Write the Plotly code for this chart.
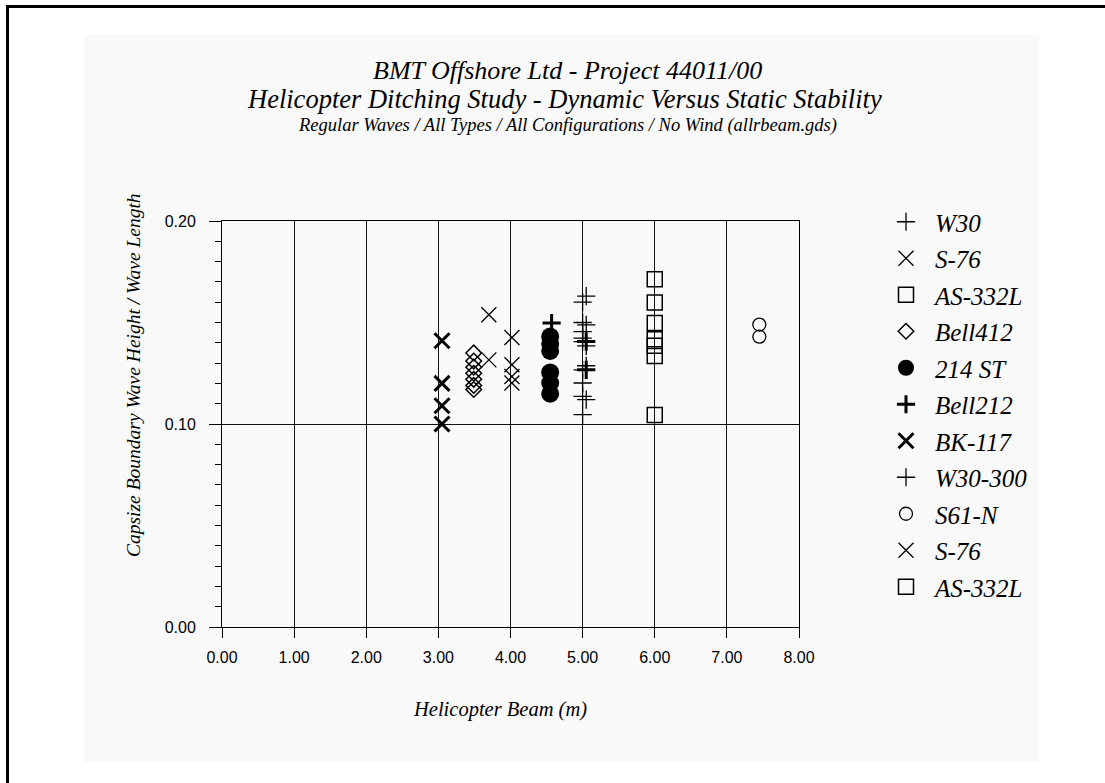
import plotly.graph_objects as go

# ---------------- data ----------------
w30_x = [5.00, 5.00, 5.00, 5.00, 5.00, 5.00, 5.00, 5.00, 5.00]
w30_y = [0.160, 0.150, 0.1455, 0.1423, 0.1406, 0.1267, 0.1202, 0.1136, 0.1046]

s76_x = [3.70, 3.70]
s76_y = [0.1538, 0.1316]

as332l_x = [6.00, 6.00, 6.00, 6.00]
as332l_y = [0.1713, 0.1598, 0.1497, 0.1418]

bell412_x = [3.49, 3.49, 3.49, 3.49, 3.49, 3.49, 3.49]
bell412_y = [0.135, 0.131, 0.128, 0.125, 0.122, 0.119, 0.117]

st214_x = [4.55, 4.55, 4.55, 4.55, 4.55, 4.55]
st214_y = [0.1431, 0.1395, 0.1360, 0.1254, 0.1202, 0.1149]

bell212_x = [4.57, 5.05, 5.05]
bell212_y = [0.1497, 0.1406, 0.1267]

bk117_x = [3.05, 3.05, 3.05, 3.05]
bk117_y = [0.141, 0.120, 0.109, 0.100]

w30300_x = [5.05, 5.05, 5.05, 5.05, 5.05]
w30300_y = [0.163, 0.1488, 0.1385, 0.1287, 0.112]

s61n_x = [7.45, 7.45]
s61n_y = [0.149, 0.143]

s76b_x = [4.02, 4.02, 4.02, 4.02]
s76b_y = [0.1426, 0.1292, 0.1234, 0.1202]

as332lb_x = [6.00, 6.00, 6.00]
as332lb_y = [0.1385, 0.1335, 0.1044]

x_ticks = [0, 1, 2, 3, 4, 5, 6, 7, 8]
y_ticks = [0.0, 0.1, 0.2]

# ---------------- layout geometry ----------------
W, H = 1105, 783
ML, MR, MT, MB = 222, 306, 221, 156
PW = W - ML - MR
PH = H - MT - MB


def px(x):
    return (x - ML) / PW


def py(y):
    return (H - MB - y) / PH


SERIF = "Liberation Serif, Times New Roman, serif"
SANS = "Liberation Sans, Arial, sans-serif"

series = [
    ("W30", w30_x, w30_y, "cross-thin-open", 13, 1.3),
    ("S-76", s76_x, s76_y, "x-thin-open", 15, 1.3),
    ("AS-332L", as332l_x, as332l_y, "square-open", 15, 1.5),
    ("Bell412", bell412_x, bell412_y, "diamond-open", 12, 1.5),
    ("214 ST", st214_x, st214_y, "circle", 18, 0),
    ("Bell212", bell212_x, bell212_y, "cross-thin-open", 13, 3),
    ("BK-117", bk117_x, bk117_y, "x-thin-open", 15, 3),
    ("W30-300", w30300_x, w30300_y, "cross-thin-open", 13, 1.3),
    ("S61-N", s61n_x, s61n_y, "circle-open", 13, 1.3),
    ("S-76", s76b_x, s76b_y, "x-thin-open", 15, 1.3),
    ("AS-332L", as332lb_x, as332lb_y, "square-open", 15, 1.5),
]

fig = go.Figure()
for i, (name, xs, ys, sym, size, lw) in enumerate(series):
    fig.add_trace(go.Scatter(
        x=xs, y=ys, mode="markers", name=name, legendgroup=f"g{i}",
        marker=dict(symbol=sym, size=size, color="black",
                    line=dict(color="black", width=lw)),
    ))

GRAY = "#f9f9f9"

fig.update_layout(
    width=W, height=H,
    margin=dict(l=ML, r=MR, t=MT, b=MB, pad=0),
    paper_bgcolor="white",
    plot_bgcolor=GRAY,
    showlegend=True,
    legend=dict(
        xref="container", yref="container",
        x=877 / W, y=1 - 199 / H, xanchor="left", yanchor="top",
        maxheight=1,
        bgcolor="rgba(0,0,0,0)", font=dict(family=SERIF, size=25, color="black", style="italic"),
        tracegroupgap=1, itemwidth=48, traceorder="grouped",
    ),
    xaxis=dict(
        range=[0, 8], tickvals=x_ticks, tickformat=".2f",
        showgrid=True, gridcolor="#111", gridwidth=1,
        showline=True, linecolor="black", linewidth=1, mirror=True,
        ticks="outside", ticklen=10, tickcolor="black", tickwidth=1,
        tickfont=dict(family=SANS, size=16, color="black"),
        zeroline=False, ticklabelstandoff=6,
    ),
    yaxis=dict(
        range=[0, 0.2], tickvals=y_ticks, tickformat=".2f",
        showgrid=True, gridcolor="#111", gridwidth=1,
        showline=True, linecolor="black", linewidth=1, mirror=True,
        ticks="outside", ticklen=12, tickcolor="black", tickwidth=1,
        minor=dict(dtick=0.01, ticks="outside", ticklen=6, tickcolor="black",
                   tickwidth=1, showgrid=False),
        tickfont=dict(family=SANS, size=16, color="black"),
        zeroline=False, ticklabelstandoff=10,
    ),
    shapes=[
        dict(type="rect", xref="paper", yref="paper", layer="below",
             x0=px(84), x1=px(1039), y0=py(35), y1=py(762),
             fillcolor=GRAY, line=dict(width=0)),
        dict(type="line", xref="paper", yref="paper", layer="above",
             x0=px(7.5), x1=px(7.5), y0=py(5), y1=py(790),
             line=dict(color="black", width=3)),
        dict(type="line", xref="paper", yref="paper", layer="above",
             x0=px(6), x1=px(1110), y0=py(6.5), y1=py(6.5),
             line=dict(color="black", width=3)),
    ],
    annotations=[
        dict(text="<i>BMT Offshore Ltd - Project 44011/00</i>", xref="paper", yref="paper",
             x=px(567), y=py(70), xanchor="center", yanchor="middle", showarrow=False,
             font=dict(family=SERIF, size=26, color="black")),
        dict(text="<i>Helicopter Ditching Study - Dynamic Versus Static Stability</i>",
             xref="paper", yref="paper",
             x=px(564), y=py(99), xanchor="center", yanchor="middle", showarrow=False,
             font=dict(family=SERIF, size=26.5, color="black")),
        dict(text="<i>Regular Waves / All Types / All Configurations / No Wind (allrbeam.gds)</i>",
             xref="paper", yref="paper",
             x=px(567), y=py(125), xanchor="center", yanchor="middle", showarrow=False,
             font=dict(family=SERIF, size=18.5, color="black")),
        dict(text="<i>Capsize Boundary Wave Height / Wave Length</i>", xref="paper", yref="paper",
             x=px(133), y=py(375), xanchor="center", yanchor="middle", showarrow=False,
             textangle=-90, font=dict(family=SERIF, size=19.5, color="black")),
        dict(text="<i>Helicopter Beam (m)</i>", xref="paper", yref="paper",
             x=px(500), y=py(709), xanchor="center", yanchor="middle", showarrow=False,
             font=dict(family=SERIF, size=20.5, color="black")),
    ],
)

fig.write_html("out.html")
